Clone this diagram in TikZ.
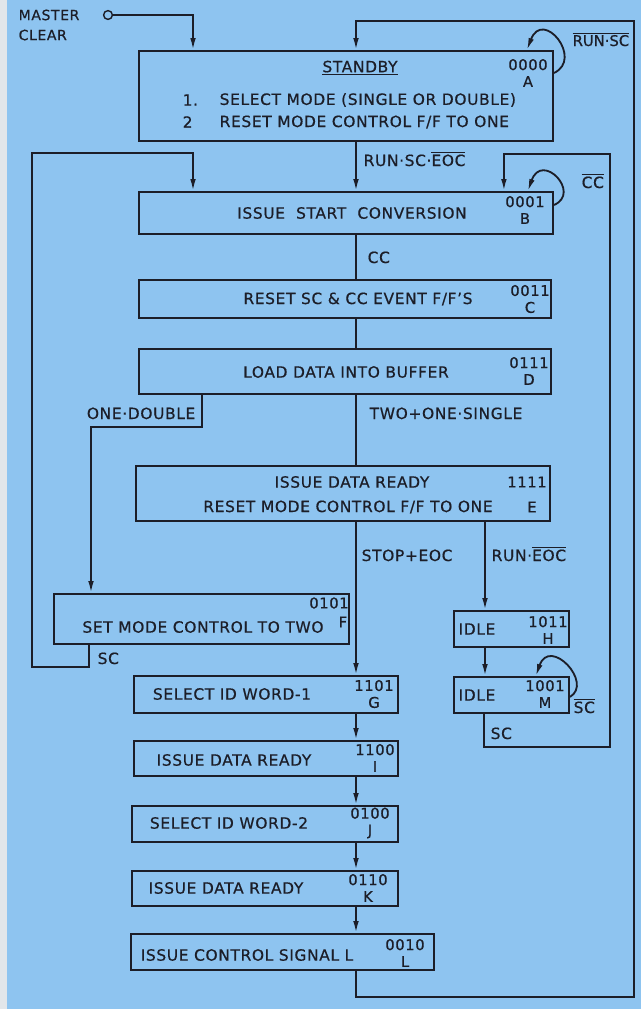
\documentclass[tikz,border=0pt]{standalone}
\usepackage{fontspec}
\setmainfont{DejaVu Sans}[LetterSpace=4, FakeBold=0.6]
\usetikzlibrary{arrows.meta,positioning,calc}
\definecolor{sheet}{RGB}{142,196,240}
\definecolor{ink}{RGB}{28,30,40}
\definecolor{edge}{RGB}{226,230,234}
\newcommand{\ovl}[1]{$\overline{\mbox{#1}}$}
\tikzset{
  box/.style={rectangle, draw=ink, line width=1.3pt, anchor=north west, inner sep=0pt},
  txt/.style={font=\fontsize{11}{13}\selectfont, text=ink, inner sep=1pt},
  code/.style={txt, align=center, font=\fontsize{10.5}{12}\selectfont},
  cond/.style={txt, anchor=base west},
  flow/.style={-{Latex[length=3mm,width=1.4mm]}, draw=ink, line width=1.3pt},
  wire/.style={draw=ink, line width=1.3pt},
}
\begin{document}
\begin{tikzpicture}[x=0.025cm, y=-0.025cm]
  \useasboundingbox (0,0) rectangle (641,1009);
  \fill[sheet] (0,0) rectangle (641,1009);
  \fill[edge] (0,0) rectangle (7,1009);
  % master clear
  \node[txt, anchor=west, font=\fontsize{10}{12}\selectfont] (mlbl) at (17,15) {MASTER};
  \node[txt, anchor=west, font=\fontsize{10}{12}\selectfont] (clbl) at (17,35) {CLEAR};
  \node[circle, draw=ink, line width=1pt, minimum size=0.22cm, inner sep=0pt] (mc) at (108,15) {};
  % states
  \node[box, minimum width=10.35cm, minimum height=2.25cm] (A) at (138,50) {};
  \node[box, minimum width=10.35cm, minimum height=1.05cm] (B) at (138,191) {};
  \node[box, minimum width=10.3cm, minimum height=0.95cm] (C) at (138,279) {};
  \node[box, minimum width=10.3cm, minimum height=1.125cm] (D) at (138,348) {};
  \node[box, minimum width=10.35cm, minimum height=1.375cm] (E) at (135,465) {};
  \node[box, minimum width=7.375cm, minimum height=1.25cm] (F) at (53,593) {};
  \node[box, minimum width=2.875cm, minimum height=0.9cm] (H) at (453,610) {};
  \node[box, minimum width=2.875cm, minimum height=0.9cm] (M) at (453,676) {};
  \node[box, minimum width=6.6cm, minimum height=0.925cm] (G) at (133,675) {};
  \node[box, minimum width=6.6cm, minimum height=0.875cm] (I) at (133,740) {};
  \node[box, minimum width=6.65cm, minimum height=0.9cm] (J) at (131,805) {};
  \node[box, minimum width=6.65cm, minimum height=0.875cm] (K) at (131,870) {};
  \node[box, minimum width=7.575cm, minimum height=0.9cm] (L) at (130,933) {};
  % state texts
  \node[txt] (Atit) at (360,68) {\underline{STANDBY}};
  \node[txt, anchor=west] (Anum1) at (181,100) {1.};
  \node[txt, anchor=west] (Aln1) at (218,100) {SELECT MODE (SINGLE OR DOUBLE)};
  \node[txt, anchor=west] (Anum2) at (181,122) {2};
  \node[txt, anchor=west] (Aln2) at (218,122) {RESET MODE CONTROL F/F TO ONE};
  \node[code] (Acode) at (528,73) {0000\\A};
  \node[txt] (Btxt) at (352,213) {ISSUE \ START \ CONVERSION};
  \node[code] (Bcode) at (525,210) {0001\\B};
  \node[txt] (Ctxt) at (358,299) {RESET SC \& CC EVENT F/F'S};
  \node[code] (Ccode) at (530,299) {0011\\C};
  \node[txt] (Dtxt) at (346,372) {LOAD DATA INTO BUFFER};
  \node[code] (Dcode) at (529,371) {0111\\D};
  \node[txt] (Etxt1) at (352,482) {ISSUE DATA READY};
  \node[txt] (Etxt2) at (348,507) {RESET MODE CONTROL F/F TO ONE};
  \node[code] (Ecode1) at (527,482) {1111};
  \node[code] (Ecode2) at (532,507) {E};
  \node[txt] (Ftxt) at (203,627) {SET MODE CONTROL TO TWO};
  \node[code] (Fcode1) at (329,603) {0101};
  \node[code] (Fcode2) at (343,622) {F};
  \node[txt] (Htxt) at (477,629) {IDLE};
  \node[code] (Hcode) at (548,630) {1011\\H};
  \node[txt] (Mtxt) at (477,695) {IDLE};
  \node[code] (Mcode) at (545,694) {1001\\M};
  \node[txt] (Gtxt) at (232,694) {SELECT ID WORD-1};
  \node[code] (Gcode) at (374,694) {1101\\G};
  \node[txt] (Itxt) at (234,760) {ISSUE DATA READY};
  \node[code] (Icode) at (375,758) {1100\\I};
  \node[txt] (Jtxt) at (229,823) {SELECT ID WORD-2};
  \node[code] (Jcode) at (370,823) {0100\\J};
  \node[txt] (Ktxt) at (226,888) {ISSUE DATA READY};
  \node[code] (Kcode) at (368,888) {0110\\K};
  \node[txt] (Ltxt) at (247,955) {ISSUE CONTROL SIGNAL L};
  \node[code] (Lcode) at (405,953) {0010\\L};
  % bus corners
  \coordinate (col) at (356,0);
  \coordinate (hcol) at (485,0);
  \coordinate (rbot) at (634,997);
  \coordinate (rtop) at (634,21);
  \coordinate (lbot) at (32,667);
  \coordinate (ltop) at (32,153);
  \coordinate (rbot2) at (610,747);
  \coordinate (rtop2) at (610,154);
  \coordinate (djog) at (91,427);
  % transitions
  \draw[flow] (mc.east) -| ([xshift=1.375cm]A.north west);
  \draw[flow] (L.south -| col) |- (rbot) -- (rtop) -| (A.north -| col);
  \draw[flow] (A.south -| col) -- (B.north -| col);
  \draw[wire] (B.south -| col) -- (C.north -| col);
  \draw[wire] (C.south -| col) -- (D.north -| col);
  \draw[wire] (D.south -| col) -- (E.north -| col);
  \draw[flow] ([xshift=1.6cm]D.south west) |- (djog) -- (F.north -| djog);
  \draw[flow] ([xshift=0.9cm]F.south west) |- (lbot) -- (ltop) -| ([xshift=1.375cm]B.north west);
  \draw[flow] ([xshift=0.775cm]M.south west) |- (rbot2) -- (rtop2) -| ([xshift=-1.25cm]B.north east);
  \draw[flow] (E.south -| col) -- (G.north -| col);
  \draw[flow] (E.south -| hcol) -- (H.north -| hcol);
  \draw[flow] (H.south -| hcol) -- (M.north -| hcol);
  \draw[flow] (G.south -| col) -- (I.north -| col);
  \draw[flow] (I.south -| col) -- (J.north -| col);
  \draw[flow] (J.south -| col) -- (K.north -| col);
  \draw[flow] (K.south -| col) -- (L.north -| col);
  % self loops
  \draw[flow] ($(A.north east)+(0,23)$) .. controls +(30,-14) and +(16,-42) .. ($(A.north east)+(-27,0)$);
  \draw[flow] ($(B.north east)+(0,14)$) .. controls +(28,-12) and +(14,-40) .. ($(B.north east)+(-26,0)$);
  \draw[flow] ($(M.north east)+(0,21)$) .. controls +(24,-14) and +(14,-40) .. ($(M.north east)+(-34,0)$);
  % conditions
  \node[cond] (lrun) at (362,166) {RUN·SC·\ovl{EOC}};
  \node[cond] (lcc) at (366,263) {CC};
  \node[cond, anchor=base east] (lone) at (197,419) {ONE·DOUBLE};
  \node[cond] (ltwo) at (368,419) {TWO+ONE·SINGLE};
  \node[cond] (lstop) at (360,561) {STOP+EOC};
  \node[cond] (lrune) at (490,561) {RUN·\ovl{EOC}};
  \node[cond] (lscf) at (96,664) {SC};
  \node[cond] (lscm) at (489,739) {SC};
  \node[cond, font=\fontsize{10.5}{12}\selectfont\addfontfeature{LetterSpace=0}] (lnrs) at (571,46) {\ovl{RUN·SC}};
  \node[cond] (lncc) at (580,188) {\ovl{CC}};
  \node[cond] (lnsc) at (572,713) {\ovl{SC}};
\end{tikzpicture}
\end{document}
